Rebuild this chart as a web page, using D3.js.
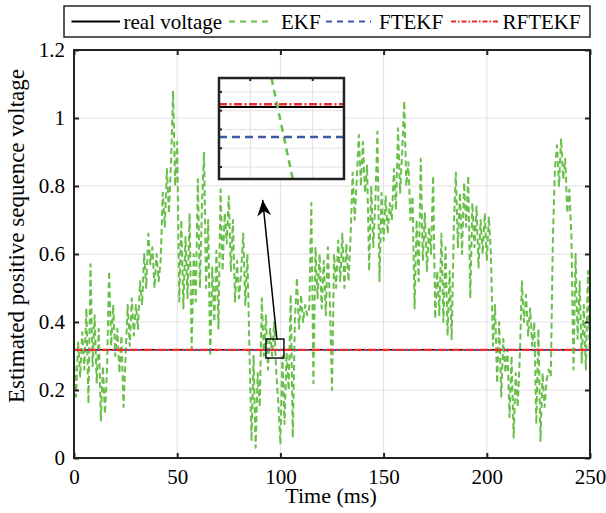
<!DOCTYPE html>
<html><head><meta charset="utf-8">
<script src="https://cdn.jsdelivr.net/npm/d3@7"></script>
<style>body{margin:0;background:#fff} text{font-family:"Liberation Serif","Times New Roman",serif;fill:#000}</style>
</head><body><svg id="c" width="606" height="513"></svg>
<script>
// ---------------- data ----------------
const timeMs = d3.range(0, 251, 1);
const ekfValues = [
0.30,0.18,0.34,0.24,0.37,0.26,0.44,0.16,0.57,0.27,
0.42,0.22,0.38,0.11,0.27,0.13,0.26,0.55,0.33,0.45,
0.30,0.38,0.25,0.36,0.15,0.30,0.45,0.33,0.47,0.36,
0.45,0.38,0.52,0.45,0.60,0.50,0.66,0.57,0.62,0.50,
0.60,0.52,0.58,0.78,0.68,0.85,0.72,0.87,1.08,0.80,
0.93,0.46,0.70,0.44,0.65,0.47,0.72,0.32,0.60,0.46,
0.82,0.50,0.74,0.90,0.50,0.70,0.30,0.56,0.40,0.61,
0.38,0.79,0.55,0.72,0.63,0.77,0.55,0.70,0.46,0.58,
0.47,0.55,0.66,0.45,0.60,0.32,0.05,0.30,0.03,0.25,
0.15,0.47,0.30,0.42,0.26,0.38,0.30,0.40,0.25,0.16,
0.04,0.30,0.10,0.31,0.20,0.48,0.06,0.40,0.53,0.38,
0.48,0.40,0.45,0.42,0.44,0.75,0.22,0.62,0.47,0.60,
0.44,0.58,0.42,0.62,0.45,0.20,0.60,0.50,0.64,0.52,
0.66,0.50,0.63,0.52,0.65,0.84,0.70,0.82,0.95,0.80,
0.93,0.78,0.86,0.55,0.80,0.62,0.75,0.96,0.52,0.78,
0.64,0.77,0.66,0.75,0.70,0.85,0.73,0.97,0.78,0.90,
1.05,0.80,0.87,0.70,0.77,0.44,0.70,0.52,0.88,0.58,
0.72,0.55,0.68,0.60,0.83,0.41,0.55,0.42,0.66,0.40,
0.62,0.36,0.55,0.35,0.68,0.84,0.62,0.78,0.60,0.81,
0.68,0.83,0.47,0.75,0.62,0.74,0.56,0.70,0.60,0.72,
0.58,0.71,0.60,0.33,0.45,0.22,0.40,0.18,0.35,0.25,
0.32,0.12,0.30,0.06,0.25,0.15,0.30,0.52,0.40,0.48,
0.36,0.44,0.33,0.40,0.10,0.38,0.05,0.25,0.15,0.23,
0.26,0.24,0.64,0.85,0.92,0.80,0.94,0.82,0.88,0.72,
0.79,0.65,0.26,0.60,0.35,0.52,0.28,0.45,0.26,0.55,
0.27];
const realVoltage = 0.3181;
const ftekfValue = 0.3173;
const rftekfValue = 0.31817;
const seriesNames = ["real voltage", "EKF", "FTEKF", "RFTEKF"];
const xTicks = [0, 50, 100, 150, 200, 250];
const yTicks = [0, 0.2, 0.4, 0.6, 0.8, 1, 1.2];
// inset (zoomed view)
const insetXDomain = [97.5, 99.5];
const insetYDomain = [0.31618, 0.31887];
const insetXTicks = [98, 99];
const insetYTicks = [0.3165, 0.317, 0.3175, 0.318, 0.3185];
const insetEkfT = [98.34, 98.68];
const insetEkfV = [0.31887, 0.31618];
// placement of inset / zoom box / arrow in main-axis data units
const insetPlaceX = [70.25, 130.8], insetPlaceY = [0.8206, 1.1176];
const zoomBoxX = [93.0, 101.7], zoomBoxY = [0.294, 0.350];
const arrowFrom = [98.35, 0.347], arrowTo = [91.4, 0.759];

// ---------------- styles ----------------
const C = {real:"#000000", ekf:"#6abf4b", ftekf:"#3d5aa8", rftekf:"#ee2a2a", grid:"#e1e1e1"};
const FS = 21, FSL = 23;

const svg = d3.select("#c");
const M = {l:74, r:590, t:50, b:458};
const x = d3.scaleLinear().domain([0,250]).range([M.l, M.r]);
const y = d3.scaleLinear().domain([0,1.2]).range([M.b, M.t]);

// grid
const g = svg.append("g");
g.selectAll(".gx").data(xTicks).enter().append("line")
  .attr("x1",d=>x(d)).attr("x2",d=>x(d)).attr("y1",M.t).attr("y2",M.b)
  .attr("stroke",C.grid).attr("stroke-width",1);
g.selectAll(".gy").data(yTicks).enter().append("line")
  .attr("y1",d=>y(d)).attr("y2",d=>y(d)).attr("x1",M.l).attr("x2",M.r)
  .attr("stroke",C.grid).attr("stroke-width",1);

const defs = svg.append("defs");
defs.append("clipPath").attr("id","clipMain").append("rect")
  .attr("x",M.l).attr("y",M.t).attr("width",M.r-M.l).attr("height",M.b-M.t);

const plot = svg.append("g").attr("clip-path","url(#clipMain)");
const line = d3.line().x((d,i)=>x(timeMs[i])).y(d=>y(d));
// real voltage
plot.append("path").datum(timeMs.map(()=>realVoltage)).attr("d",line)
  .attr("fill","none").attr("stroke",C.real).attr("stroke-width",1.5);
// EKF
plot.append("path").datum(ekfValues).attr("d",line)
  .attr("fill","none").attr("stroke",C.ekf).attr("stroke-width",2)
  .attr("stroke-dasharray","6,3.5").attr("stroke-linejoin","round");
// FTEKF
plot.append("path").datum(timeMs.map(()=>ftekfValue)).attr("d",line)
  .attr("fill","none").attr("stroke",C.ftekf).attr("stroke-width",2).attr("stroke-dasharray","6,4");
// RFTEKF
plot.append("path").datum(timeMs.map(()=>rftekfValue)).attr("d",line)
  .attr("fill","none").attr("stroke",C.rftekf).attr("stroke-width",2.2).attr("stroke-dasharray","8,2,2,2");

// axes
const tl = 5;
const axB = svg.append("g").attr("transform",`translate(0,${M.b})`)
  .call(d3.axisBottom(x).tickValues(xTicks).tickSizeInner(-tl).tickSizeOuter(0).tickPadding(10).tickFormat(d3.format("d")));
const axT = svg.append("g").attr("transform",`translate(0,${M.t})`)
  .call(d3.axisTop(x).tickValues(xTicks).tickSizeInner(-tl).tickSizeOuter(0).tickFormat(""));
const axL = svg.append("g").attr("transform",`translate(${M.l},0)`)
  .call(d3.axisLeft(y).tickValues(yTicks).tickSizeInner(-tl).tickSizeOuter(0).tickPadding(9).tickFormat(d=>d3.format("~g")(d)));
const axR = svg.append("g").attr("transform",`translate(${M.r},0)`)
  .call(d3.axisRight(y).tickValues(yTicks).tickSizeInner(-tl).tickSizeOuter(0).tickFormat(""));
[axB,axT,axL,axR].forEach(a=>{
  a.select(".domain").remove();
  a.selectAll(".tick line").attr("stroke","#222").attr("stroke-width",2);
  a.selectAll("text").attr("font-size",FS).attr("font-family","Liberation Serif").attr("fill","#000");
});
axB.selectAll("text").attr("dy","0.75em");
// frame
svg.append("rect").attr("x",M.l).attr("y",M.t).attr("width",M.r-M.l).attr("height",M.b-M.t)
  .attr("fill","none").attr("stroke","#222").attr("stroke-width",2);

// axis titles
svg.append("text").attr("x",331).attr("y",503).attr("text-anchor","middle")
  .attr("font-size",22).text("Time (ms)");
svg.append("text").attr("transform",`translate(24,236) rotate(-90)`).attr("text-anchor","middle")
  .attr("font-size",FSL).text("Estimated positive sequence voltage");

// zoom box & arrow
svg.append("rect").attr("x",x(zoomBoxX[0])).attr("y",y(zoomBoxY[1]))
  .attr("width",x(zoomBoxX[1])-x(zoomBoxX[0])).attr("height",y(zoomBoxY[0])-y(zoomBoxY[1]))
  .attr("fill","none").attr("stroke","#111").attr("stroke-width",1.5);
defs.append("marker").attr("id","ah").attr("viewBox","0 0 10 10")
  .attr("refX",10).attr("refY",5).attr("markerWidth",16).attr("markerHeight",14)
  .attr("markerUnits","userSpaceOnUse").attr("orient","auto").attr("preserveAspectRatio","none")
  .append("path").attr("d","M0,0 L10,5 L0,10 L3,5 Z").attr("fill","#000");
svg.append("line").attr("x1",x(arrowFrom[0])).attr("y1",y(arrowFrom[1]))
  .attr("x2",x(arrowTo[0])).attr("y2",y(arrowTo[1]))
  .attr("stroke","#000").attr("stroke-width",1.5).attr("marker-end","url(#ah)");

// inset
const ix0 = x(insetPlaceX[0]), ix1 = x(insetPlaceX[1]);
const iy0 = y(insetPlaceY[1]), iy1 = y(insetPlaceY[0]);
const xi = d3.scaleLinear().domain(insetXDomain).range([ix0, ix1]);
const yi = d3.scaleLinear().domain(insetYDomain).range([iy1, iy0]);
const ins = svg.append("g");
ins.append("rect").attr("x",ix0).attr("y",iy0).attr("width",ix1-ix0).attr("height",iy1-iy0).attr("fill","#fff");
ins.selectAll(".igx").data(insetXTicks).enter().append("line")
  .attr("x1",d=>xi(d)).attr("x2",d=>xi(d)).attr("y1",iy0).attr("y2",iy1).attr("stroke",C.grid);
ins.selectAll(".igy").data(insetYTicks).enter().append("line")
  .attr("y1",d=>yi(d)).attr("y2",d=>yi(d)).attr("x1",ix0).attr("x2",ix1).attr("stroke",C.grid);
defs.append("clipPath").attr("id","clipIns").append("rect")
  .attr("x",ix0).attr("y",iy0).attr("width",ix1-ix0).attr("height",iy1-iy0);
const ip = ins.append("g").attr("clip-path","url(#clipIns)");
ip.append("line").attr("x1",ix0).attr("x2",ix1).attr("y1",yi(realVoltage)).attr("y2",yi(realVoltage))
  .attr("stroke",C.real).attr("stroke-width",2);
const iline = d3.line().x((d,i)=>xi(insetEkfT[i])).y(d=>yi(d));
ip.append("path").datum(insetEkfV).attr("d",iline).attr("fill","none")
  .attr("stroke",C.ekf).attr("stroke-width",2.5).attr("stroke-dasharray","7,5");
ip.append("line").attr("x1",ix0).attr("x2",ix1).attr("y1",yi(ftekfValue)).attr("y2",yi(ftekfValue))
  .attr("stroke",C.ftekf).attr("stroke-width",2.5).attr("stroke-dasharray","8,5");
ip.append("line").attr("x1",ix0).attr("x2",ix1).attr("y1",yi(rftekfValue)).attr("y2",yi(rftekfValue))
  .attr("stroke",C.rftekf).attr("stroke-width",2.5).attr("stroke-dasharray","8,2.5,2,2.5");
// inset ticks
ins.selectAll(".itx").data(insetXTicks).enter().append("line")
  .attr("x1",d=>xi(d)).attr("x2",d=>xi(d)).attr("y1",iy0).attr("y2",iy0+3).attr("stroke","#222").attr("stroke-width",2);
ins.selectAll(".ity").data(insetYTicks).enter().append("line")
  .attr("y1",d=>yi(d)).attr("y2",d=>yi(d)).attr("x1",ix0).attr("x2",ix0+3).attr("stroke","#222").attr("stroke-width",2);
ins.append("rect").attr("x",ix0).attr("y",iy0).attr("width",ix1-ix0).attr("height",iy1-iy0)
  .attr("fill","none").attr("stroke","#222").attr("stroke-width",2.5);

// legend
const L = {x:64, y:6, w:526, h:31};
const lg = svg.append("g");
lg.append("rect").attr("x",L.x).attr("y",L.y).attr("width",L.w).attr("height",L.h)
  .attr("fill","#fff").attr("stroke","#222").attr("stroke-width",1.5);
const legItems = [
  {name:seriesNames[0], x0:71.5, x1:120, tx:123.5, color:C.real, dash:null},
  {name:seriesNames[1], x0:229, x1:273, tx:281, color:C.ekf, dash:"6,5"},
  {name:seriesNames[2], x0:326, x1:371, tx:379, color:C.ftekf, dash:"6,5"},
  {name:seriesNames[3], x0:451, x1:499, tx:502.5, color:C.rftekf, dash:"5,2,1.5,2"}
];
const ly = L.y + L.h/2;
legItems.forEach(it=>{
  const l = lg.append("line").attr("x1",it.x0).attr("x2",it.x1).attr("y1",ly).attr("y2",ly)
    .attr("stroke",it.color).attr("stroke-width",it.dash? 1.8 : 2);
  if (it.dash) l.attr("stroke-dasharray",it.dash);
  lg.append("text").attr("x",it.tx).attr("y",ly).attr("dy","0.34em").attr("font-size",FS).text(it.name);
});
</script></body></html>
